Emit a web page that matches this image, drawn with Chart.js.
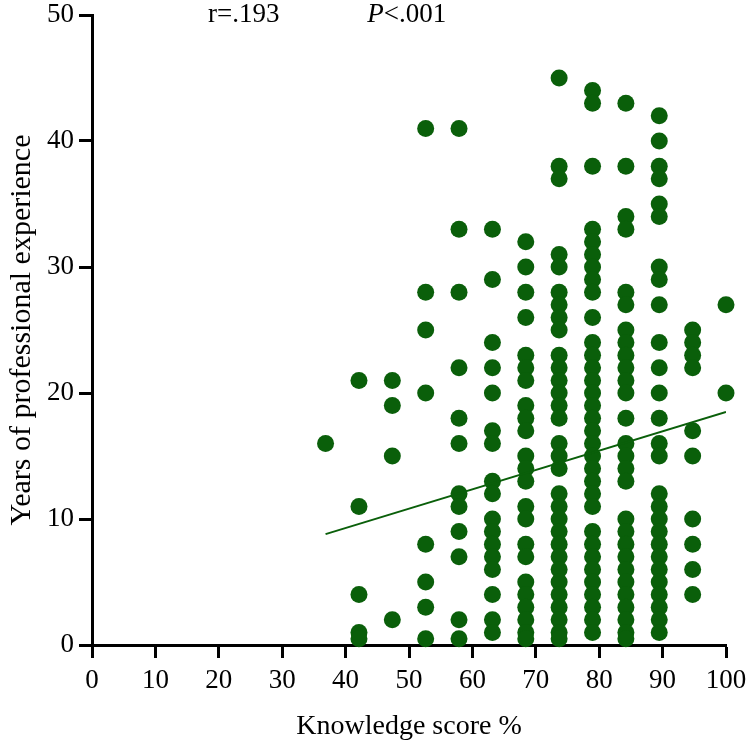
<!DOCTYPE html>
<html>
<head>
<meta charset="utf-8">
<script src="https://cdn.jsdelivr.net/npm/chart.js@4"></script>
<style>
  html, body { margin: 0; padding: 0; background: #fff; }
  #wrap { width: 750px; height: 747px; }
</style>
</head>
<body>
<div id="wrap"><canvas id="scatterChart"></canvas></div>
<script>
// Knowledge score levels (x) and years of experience at each level (y)
const scoreLevels = [36.84, 42.11, 47.37, 52.63, 57.89, 63.16, 68.42, 73.68, 78.95, 84.21, 89.47, 94.74, 100];
const yearsByLevel = [
    [16],
    [21, 11, 4, 1, 0.5],
    [21, 19, 15, 2],
    [41, 28, 25, 20, 8, 5, 3, 0.5],
    [41, 33, 28, 22, 18, 16, 12, 11, 9, 7, 2, 0.5],
    [33, 29, 24, 22, 20, 17, 16, 13, 12, 10, 9, 8, 7, 6, 4, 2, 1],
    [32, 30, 28, 26, 23, 22, 21, 19, 18, 17, 15, 14, 13, 11, 10, 8, 7, 5, 4, 3, 2, 1, 0.5],
    [45, 38, 37, 31, 30, 28, 27, 26, 25, 23, 22, 21, 20, 19, 18, 16, 15, 14, 12, 11, 10, 9, 8, 7, 6, 5, 4, 3, 2, 1, 0.5],
    [44, 43, 38, 33, 32, 31, 30, 29, 28, 26, 24, 23, 22, 21, 20, 19, 18, 17, 16, 15, 14, 13, 12, 11, 9, 8, 7, 6, 5, 4, 3, 2, 1],
    [43, 38, 34, 33, 28, 27, 25, 24, 23, 22, 21, 20, 18, 16, 15, 14, 13, 10, 9, 8, 7, 6, 5, 4, 3, 2, 1, 0.5],
    [42, 40, 38, 37, 35, 34, 30, 29, 27, 24, 22, 20, 18, 16, 15, 12, 11, 10, 9, 8, 7, 6, 5, 4, 3, 2, 1],
    [25, 24, 23, 22, 17, 15, 10, 8, 6, 4],
    [27, 20]
];
// Regression line end points
const fitX = [36.84, 100];
const fitY = [8.8, 18.5];
const xTicks = [0, 10, 20, 30, 40, 50, 60, 70, 80, 90, 100];
const yTicks = [0, 10, 20, 30, 40, 50];

const green = '#0a5f0a';
const serif = "'Liberation Serif', 'Times New Roman', serif";

const points = [];
scoreLevels.forEach((x, i) => {
    yearsByLevel[i].forEach(y => points.push({ x: x, y: y }));
});
const fitLine = fitX.map((x, i) => ({ x: x, y: fitY[i] }));

// Texto de estatística no topo
const statsText = {
    id: 'statsText',
    afterDraw(chart) {
        const ctx = chart.ctx;
        const xs = chart.scales.x;
        const ys = chart.scales.y;
        const yPos = ys.getPixelForValue(50);
        ctx.save();
        ctx.fillStyle = '#000';
        ctx.textBaseline = 'middle';
        ctx.textAlign = 'left';
        ctx.font = '27px ' + serif;
        ctx.fillText('r=.193', xs.getPixelForValue(18.3), yPos);
        let px = xs.getPixelForValue(43.4);
        ctx.font = 'italic 27px ' + serif;
        ctx.fillText('P', px, yPos);
        px += ctx.measureText('P').width;
        ctx.font = '27px ' + serif;
        ctx.fillText('<.001', px, yPos);
        ctx.restore();
    }
};

const ctx = document.getElementById('scatterChart').getContext('2d');

new Chart(ctx, {
    type: 'scatter',
    data: {
        datasets: [
            {
                label: 'Participants',
                data: points,
                backgroundColor: green,
                borderColor: green,
                borderWidth: 0,
                pointRadius: 8.5,
                pointHoverRadius: 8.5,
                clip: false,
                order: 2
            },
            {
                label: 'Fit',
                type: 'line',
                data: fitLine,
                borderColor: green,
                borderWidth: 2,
                pointRadius: 0,
                fill: false,
                order: 1
            }
        ]
    },
    options: {
        responsive: true,
        maintainAspectRatio: false,
        animation: false,
        layout: { padding: { top: 15, right: 24, left: 0, bottom: 0 } },
        plugins: {
            legend: { display: false },
            tooltip: { enabled: false }
        },
        scales: {
            x: {
                type: 'linear',
                min: 0,
                max: 100,
                afterBuildTicks: s => { s.ticks = xTicks.map(v => ({ value: v })); },
                afterFit: s => {
                    s.height = 102;
                    s.paddingLeft = 0;
                    s.paddingRight = 0;
                },
                border: { display: true, color: '#000', width: 3 },
                grid: {
                    drawOnChartArea: false,
                    drawTicks: true,
                    tickLength: 13,
                    tickColor: '#000',
                    tickWidth: 3
                },
                ticks: {
                    color: '#000',
                    padding: 7,
                    maxRotation: 0,
                    font: { family: serif, size: 27 }
                },
                title: {
                    display: true,
                    text: 'Knowledge score %',
                    color: '#000',
                    padding: { top: 0, bottom: 4 },
                    font: { family: serif, size: 28 }
                }
            },
            y: {
                type: 'linear',
                min: 0,
                max: 50,
                afterBuildTicks: s => { s.ticks = yTicks.map(v => ({ value: v })); },
                afterFit: s => {
                    s.width = 92;
                    s.paddingTop = 0;
                    s.paddingBottom = 0;
                },
                border: { display: true, color: '#000', width: 3 },
                grid: {
                    drawOnChartArea: false,
                    drawTicks: true,
                    tickLength: 13,
                    tickColor: '#000',
                    tickWidth: 3
                },
                ticks: {
                    color: '#000',
                    padding: 5,
                    font: { family: serif, size: 27, lineHeight: 1 }
                },
                title: {
                    display: true,
                    text: 'Years of professional experience',
                    color: '#000',
                    padding: { top: 4, bottom: 0 },
                    font: { family: serif, size: 30 }
                }
            }
        }
    },
    plugins: [statsText]
});
</script>
</body>
</html>
